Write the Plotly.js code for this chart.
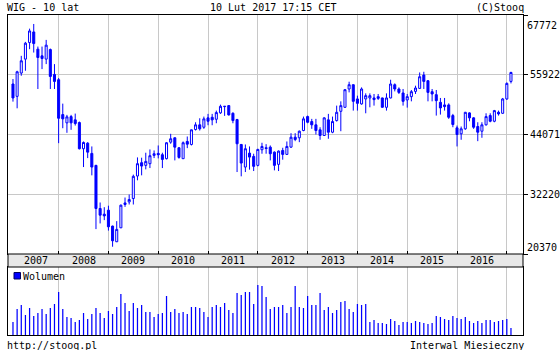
<!DOCTYPE html>
<html><head><meta charset="utf-8">
<script src="https://cdn.plot.ly/plotly-3.0.1.min.js"></script>
<style>html,body{margin:0;padding:0;background:#fff}#chart{width:560px;height:350px}</style>
</head><body><div id="chart"></div>
<script>
// WIG monthly candles, Feb 2007 .. Feb 2017
const startYear = 2007, startMonth = 2;
const open = [54084,51635,56257,59022,62300,64413,60997,59673,59022,60918,
55980,54933,48021,46382,47626,46974,46441,41247,42353,40318,
37948,29397,28271,29061,25901,22800,25565,30187,30700,31372,
35835,38482,37948,38284,39923,40318,40062,39272,42550,43419,
41444,39272,42688,42096,45058,45987,45513,47369,47488,47093,
48357,49601,49799,48278,47034,42096,37613,40378,39726,37948,
41049,41444,41563,40575,38146,40911,40121,41563,43538,43419,
44861,47626,46638,45987,44999,43874,46974,44525,46836,48673,
49463,53097,53946,51122,50134,51122,51319,51319,51576,51319,
49463,51319,53946,53097,52307,50924,51576,52623,53215,55862,
54736,52564,51971,50450,49937,49937,47824,45394,44209,45197,
48357,47369,45651,44723,45987,47824,46698,48475,48278,51122,
54598];
const high = [55072,56711,59673,62438,65065,65993,61510,61510,62833,61115,
58034,55269,50193,47962,47962,48218,46638,42688,42550,41701,
38047,30582,29653,29950,26000,26889,30187,31569,32162,36112,
39528,39469,40457,41108,40911,41898,40457,42550,44209,43479,
41563,42688,43676,45058,46500,47290,47626,48159,48159,48811,
49996,49700,49858,48475,47172,42195,42096,41701,40259,41247,
42432,42155,41898,40713,40911,41444,42688,44328,44328,44861,
47626,47824,47172,47172,45513,47488,48159,47626,49799,50648,
53097,54539,54005,51774,53413,52228,52228,52109,52109,51378,
52228,54933,54203,53413,53097,52109,52899,53749,56375,56513,
54874,53097,52899,51319,51319,50253,48159,45848,45651,48554,
48475,47488,46500,46500,48278,48278,48949,48811,51319,54400,
56513];
const low = [50588,49265,55723,56711,60997,60325,53097,57047,58034,53097,
53097,42353,45315,44407,44999,45848,41108,37613,39390,35973,
25308,26434,27086,25012,21813,22741,25506,29713,30187,30187,
34986,35973,37158,37415,39390,39331,37415,39133,42234,38936,
39272,39232,41365,41898,44861,44861,45197,45908,45908,46303,
48159,47764,47824,46303,36625,35776,36625,37099,36823,37751,
40259,40259,38936,36961,36823,39074,40062,41444,42748,42550,
44723,46303,45197,44071,43024,43775,43222,44328,46638,44723,
49344,52425,48811,48811,49996,48278,49463,49799,50924,49404,
48811,51240,52623,52109,49799,49404,50648,52109,53097,53097,
50648,50648,47824,48021,48811,47172,45513,41701,43024,44999,
46698,45197,42748,43419,45848,46500,46500,47824,48159,50924,
54203];
const close = [51319,56513,58686,62182,64611,62103,59338,59140,61787,55585,
54598,47290,47172,47567,46382,46243,41247,42491,40575,37613,
29397,28073,27935,25763,22998,25249,30049,30503,31174,35776,
38284,37810,38738,39864,40259,40062,39133,42432,43222,41563,
39528,42432,42155,44999,45987,45197,47172,46698,46974,48416,
49660,49660,47962,46836,42234,38403,41247,39588,37751,41108,
41701,41306,40259,37948,40773,40121,41701,43538,43083,44723,
47172,46500,45987,44861,43874,47369,44525,46638,48475,49799,
52959,53946,50648,50253,53097,51774,51774,50984,51240,49463,
51319,54084,53097,52425,50648,51576,52564,53294,55526,54598,
52425,52109,50786,49344,49601,47488,46046,44071,45197,48475,
47369,45513,44525,45987,47626,46698,48811,48159,51122,54203,
56375];
// monthly volume (relative units)
const volume = [13,26,30,20,27,19,22,26,21,27,31,43,
26,18,17,13,15,22,16,21,27,22,17,24,
21,28,41,32,24,32,27,30,23,23,18,21,
22,39,23,26,22,23,21,28,28,27,23,18,
28,30,28,32,25,22,42,40,43,43,31,50,
49,38,26,28,28,30,22,28,49,28,27,
39,30,30,42,25,28,22,25,33,34,26,23,
31,30,31,13,15,12,12,11,16,14,10,13,
13,12,14,13,12,11,12,19,18,16,15,19,
17,16,18,14,12,14,12,15,15,13,14,15,
16,7];
const years = ['2007','2008','2009','2010','2011','2012','2013','2014','2015','2016'];
const yTicks = [20370, 32220, 44071, 55922, 67772];

const idx = open.map((_, i) => i);
const months = idx.map(i => {
  const m = startMonth - 1 + i;
  return (startYear + Math.floor(m / 12)) + '-' + String(m % 12 + 1).padStart(2, '0');
});
const janIdx = idx.filter(i => months[i].endsWith('-01'));

const F = 'DejaVu Sans Mono';
const BLUE = '#0000ff';
const GRID = '#c8c8c8';
const xr = [-1.2, 122.9];

const traces = [
  {type: 'candlestick', x: idx, open: open, high: high, low: low, close: close,
   text: months, xaxis: 'x', yaxis: 'y', whiskerwidth: 0,
   increasing: {line: {color: BLUE, width: 1}, fillcolor: '#ffffff'},
   decreasing: {line: {color: BLUE, width: 1}, fillcolor: BLUE},
   showlegend: false, hoverinfo: 'skip'},
  {type: 'bar', x: idx, y: volume, xaxis: 'x2', yaxis: 'y2', width: 0.3,
   marker: {color: BLUE, line: {width: 0}}, name: 'Wolumen', showlegend: false, hoverinfo: 'skip'}
];

const px2py = p => (335 - p) / 320;
const px2px = p => (p - 8) / 515;

const annotations = [];
years.forEach((y, k) => {
  const j = months.indexOf(y + '-01');
  const start = j < 0 ? 0 : j;
  const next = months.indexOf((+y + 1) + '-01');
  annotations.push({text: y, xref: 'x', yref: 'paper', x: (start + next) / 2, y: px2py(260.5),
    showarrow: false, xanchor: 'center', yanchor: 'middle', font: {family: F, size: 10, color: '#000'}});
});
const txt = (t, x, y, xa) => ({text: t, xref: 'paper', yref: 'paper', x: x, y: y, showarrow: false,
  xanchor: xa, yanchor: 'middle', borderpad: 0, font: {family: F, size: 10, color: '#000'}});
annotations.push(txt('WIG - 10 lat', px2px(6), px2py(8), 'left'));
annotations.push(txt('10 Lut 2017 17:15 CET', px2px(273), px2py(8), 'center'));
annotations.push(txt('(C)Stooq', px2px(525), px2py(8), 'right'));
annotations.push(txt('http://stooq.pl', px2px(6), px2py(345), 'left'));
annotations.push(txt('Interwal Miesieczny', px2px(525), px2py(345), 'right'));
annotations.push(txt(String(yTicks[4]), px2px(526), px2py(25), 'left'));
annotations.push(txt(String(yTicks[0]), px2px(526), px2py(247), 'left'));
annotations.push(txt('Wolumen', px2px(22), px2py(276), 'left'));

const layout = {
  width: 560, height: 350,
  margin: {l: 8, r: 37, t: 15, b: 15, pad: 0},
  paper_bgcolor: '#ffffff', plot_bgcolor: '#ffffff',
  showlegend: false,
  font: {family: F, size: 10, color: '#000'},
  boxgap: 0.3,
  xaxis: {domain: [0, 1], anchor: 'y', range: xr, tickvals: janIdx, showticklabels: false,
    ticks: 'inside', ticklen: 3, tickcolor: '#000', tickwidth: 1,
    showgrid: true, gridcolor: GRID, gridwidth: 1, showline: true, mirror: true,
    linecolor: '#000', linewidth: 1, zeroline: false, rangeslider: {visible: false}, fixedrange: true},
  yaxis: {domain: [px2py(254), 1], anchor: 'x', side: 'right', range: [yTicks[0], yTicks[4]],
    tickvals: yTicks, ticktext: ['', String(yTicks[1]), String(yTicks[2]), String(yTicks[3]), ''],
    ticks: 'outside', ticklen: 4, tickcolor: '#000', tickfont: {family: F, size: 10, color: '#000'},
    showgrid: true, gridcolor: GRID, showline: true, mirror: true, linecolor: '#000', linewidth: 1,
    zeroline: false, fixedrange: true},
  xaxis2: {domain: [0, 1], anchor: 'y2', range: xr, tickvals: janIdx, showticklabels: false, ticks: '',
    showgrid: true, gridcolor: GRID, showline: true, mirror: true, linecolor: '#000', linewidth: 1,
    zeroline: false, fixedrange: true},
  yaxis2: {domain: [0, px2py(267)], anchor: 'x2', range: [0, 68], showgrid: false, showticklabels: false,
    ticks: '', showline: true, mirror: true, linecolor: '#000', linewidth: 1, zeroline: false, fixedrange: true},
  shapes: [
    {type: 'rect', xref: 'paper', yref: 'paper', x0: 0, x1: 1, y0: px2py(267), y1: px2py(254),
     fillcolor: '#e8e8e8', line: {color: '#000', width: 1}},
    {type: 'rect', xref: 'paper', yref: 'paper', x0: px2px(14), x1: px2px(20.5), y0: px2py(279), y1: px2py(272.5),
     fillcolor: BLUE, line: {color: '#000060', width: 1}}
  ],
  annotations: annotations
};

Plotly.newPlot('chart', traces, layout, {staticPlot: true, displayModeBar: false});
</script>
</body></html>
